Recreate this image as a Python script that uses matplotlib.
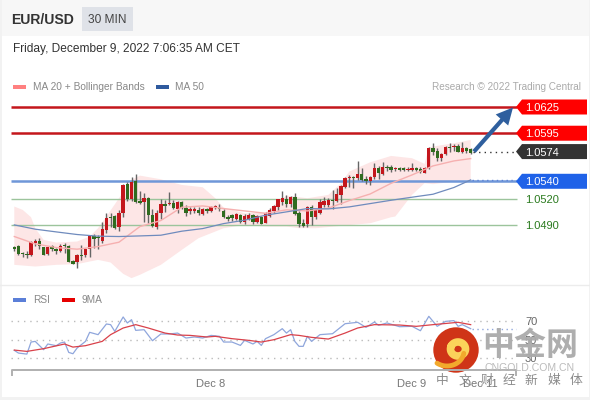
from matplotlib import pyplot as plt
from matplotlib import patches
import numpy as np

plt.rcParams['font.family'] = ['Liberation Sans', 'Noto Sans CJK SC', 'DejaVu Sans']

# candles, in 1e-5 above 1.0
opens = [4650,4657,4581,4573,4558,4692,4714,4646,4570,4657,4623,4608,4669,4665,4486,4471,4558,4562,4623,4775,
         4768,4718,4844,4989,5008,4874,5034,5366,5195,5404,5175,5160,5206,5015,4882,5042,5137,5141,5149,5084,
         5168,5099,5061,5061,5069,5027,5080,5057,5103,5095,5061,4989,5015,4974,5015,4935,4974,5015,4935,4996,
         4928,5008,5061,5103,5160,5198,5137,5217,5034,4928,4909,5107,4989,5042,5130,5126,5187,5179,5240,5339,
         5434,5454,5434,5484,5423,5408,5446,5553,5488,5568,5568,5541,5549,5553,5531,5531,5550,5546,5500,5550,
         5782,5744,5664,5713,5797,5790,5805,5733,5786,5767]
closes = [4631,4570,4566,4558,4707,4714,4661,4558,4646,4623,4608,4657,4657,4478,4452,4554,4547,4627,4775,4745,
          4749,4855,4981,4977,4871,5034,5358,5195,5396,5164,5153,5206,5015,4890,5038,5137,5118,5156,5099,5168,
          5092,5034,5080,5080,5034,5080,5057,5107,5114,5084,4996,4974,4977,5023,4935,5008,5019,4935,5008,4916,
          5034,5069,5118,5195,5214,5137,5225,5027,4913,4894,5107,4989,5069,5164,5179,5187,5179,5255,5347,5434,
          5446,5442,5484,5416,5408,5446,5553,5499,5564,5556,5530,5553,5530,5531,5546,5553,5531,5504,5553,5782,
          5740,5664,5713,5793,5778,5801,5740,5778,5752,5729]
highs = [4665,4669,4596,4600,4714,4737,4749,4653,4653,4673,4634,4684,4692,4673,4494,4570,4673,4634,4783,4802,
         4787,4935,5034,5034,5015,5073,5366,5396,5454,5480,5290,5263,5225,5084,5073,5195,5187,5275,5187,5179,
         5179,5126,5111,5111,5103,5092,5099,5122,5134,5141,5080,5015,5023,5034,5027,5023,5034,5027,5019,5008,
         5046,5092,5130,5202,5290,5244,5233,5271,5065,4966,5118,5126,5080,5195,5225,5214,5301,5320,5358,5446,
         5473,5461,5633,5549,5461,5461,5606,5575,5617,5587,5587,5568,5560,5569,5561,5614,5569,5561,5569,5790,
         5843,5778,5729,5805,5835,5824,5824,5854,5797,5778]
lows = [4608,4562,4539,4524,4547,4665,4623,4554,4562,4608,4566,4596,4585,4471,4448,4406,4494,4539,4532,4642,
        4631,4699,4806,4882,4859,4836,4996,5179,5179,5156,5137,4939,4928,4874,4852,4966,5054,5130,5084,5034,
        5080,5008,5027,5034,5012,5012,5042,5050,5088,5057,4985,4951,4951,4958,4928,4913,4958,4913,4920,4913,
        4920,4996,5034,5073,5130,5103,5111,5012,4874,4882,4882,4897,4974,5027,5103,5103,5080,5168,5141,5320,
        5339,5320,5416,5408,5370,5358,5423,5423,5473,5522,5511,5522,5515,5515,5515,5515,5515,5493,5493,5542,
        5702,5637,5630,5702,5740,5752,5733,5721,5729,5713]

ma20_idx = [0,5,10,15,20,25,30,35,40,45,50,55,60,65,70,75,80,85,90,95,100,105,109]
ma20 = [4768,4684,4642,4623,4653,4703,4882,4951,5103,5118,5088,5061,5034,5073,5061,5092,5179,5255,5377,5473,5576,5633,5660]

ma50_idx = [0,5,10,15,20,25,30,35,40,45,50,55,60,65,70,75,80,85,90,95,100,105,109]
ma50 = [4901,4852,4821,4791,4772,4768,4775,4783,4829,4859,4916,4955,5012,5050,5088,5084,5107,5145,5183,5218,5252,5329,5416]

upper_idx = [0,2,4,5,7,10,15,18,20,22,25,28,30,35,40,45,48,50,55,60,63,65,70,75,78,80,85,90,95,98,99,105,109]
upper = [5111,5073,4989,4863,4730,4699,4711,4768,4863,4996,5206,5416,5465,5423,5358,5332,5206,5099,5034,5042,5168,5236,5206,5244,5377,5511,5617,5690,5664,5599,5790,5835,5873]
lower_idx = [0,5,10,15,18,20,23,26,28,30,35,40,44,47,50,55,60,65,68,72,78,85,90,91,95,98,100,105,109]
lower = [4444,4425,4444,4452,4482,4501,4471,4341,4292,4330,4444,4615,4749,4806,4863,4901,4882,4882,4863,4863,4890,4920,4989,4997,5245,5378,5367,5397,5416]

rsi_idx = [0,1,3,4,5,7,8,10,11,12,13,14,15,17,18,20,22,23,24,26,27,28,29,31,33,35,37,39,41,43,45,47,49,50,52,54,55,57,58,59,60,62,64,65,66,67,68,
           69,70,71,73,76,79,82,84,86,87,89,92,95,97,99,101,103,105,106,107,109]
rsi = [38.6,35.7,34.6,47.5,48.2,39.3,45.4,43.6,46.4,47.5,36.4,35,41.1,48.2,57.9,55.4,66.8,66.1,58.9,74.3,67.9,71.4,60,60.7,48.9,56.1,56.1,57.1,51.8,52.9,51.8,54.6,53.6,47.5,47.5,43.9,49.3,45.4,48.2,43.9,51.1,55.4,61.8,57.1,60.7,48.2,42.9,
       42.9,53.6,48.2,55.4,56.4,67.1,68.6,63.2,68.9,65.4,67.9,63.9,64.3,59.6,75,64.3,69.6,70.4,64.3,66.1,61.8]
rsi_ma_idx = [0,3,7,12,14,17,21,23,26,29,32,36,39,42,46,48,52,56,59,62,66,68,71,75,79,82,86,92,96,100,106,109]
rsi_ma = [38.9,37.5,40.4,45.4,42.1,43.6,48.2,55.4,62.5,66.1,62.5,57.1,55,54.6,52.9,53.6,51.1,49.3,47.5,50,55.4,54.6,52.5,50.7,57.1,62.5,66.1,65.7,64.3,66.1,68.6,66.1]

level_values = [1.0625, 1.0595, 1.0574, 1.0540, 1.0520, 1.0490]
level_labels = ['1.0625', '1.0595', '1.0574', '1.0540', '1.0520', '1.0490']
rsi_levels = [70, 50, 30]
media_chars = ['中', '文', '财', '经', '新', '媒', '体']

def price(vals):
    return 1.0 + np.array(vals) / 1e5

def ix(x):
    # pixel column to candle index
    return (x - 14.3) / 4.187

W, H = 590, 400
RED, GREEN = '#c4161c', '#2f6b1f'
PX = 1 / 8740
fig = plt.figure(figsize=(W / 100, H / 100), dpi=100, facecolor='white')

# overlay in pixel coordinates for the page furniture
bg = fig.add_axes([0, 0, 1, 1], zorder=0)
bg.set_xlim(0, W)
bg.set_ylim(H, 0)
bg.axis('off')
bg.add_patch(patches.Rectangle((0, 0), W, 36, color='#f7f7f7', lw=0))
bg.add_patch(patches.Rectangle((82, 7), 51, 24, color='#dfe2e8', lw=0))
bg.add_patch(patches.Rectangle((0, 397), W, 3, color='#f2f2f2', lw=0))
bg.add_patch(patches.Rectangle((0, 0), 1.5, H, color='#f2f2f2', lw=0))
bg.add_patch(patches.Rectangle((588.5, 0), 1.5, H, color='#f2f2f2', lw=0))
bg.plot([0, W], [284.5, 284.5], color='#ececec', lw=1)
bg.text(11, 20, 'EUR/USD', fontsize=10.1, fontweight='bold', color='#333333', va='center')
bg.text(107.5, 20, '30 MIN', fontsize=8.6, color='#444444', va='center', ha='center')
bg.text(13, 49, 'Friday, December 9, 2022 7:06:35 AM CET', fontsize=8.6, color='#333333', va='center')
bg.add_patch(patches.Rectangle((13, 84.5), 13, 4, color='#ff8080', lw=0))
bg.text(33, 87, 'MA 20 + Bollinger Bands', fontsize=7.25, color='#888888', va='center')
bg.add_patch(patches.Rectangle((156, 84.5), 13, 4, color='#2f5a9e', lw=0))
bg.text(175, 87, 'MA 50', fontsize=7.25, color='#888888', va='center')
bg.text(581, 87, 'Research © 2022 Trading Central', fontsize=7.2, color='#aaaaaa', va='center', ha='right')
bg.add_patch(patches.Rectangle((13, 297.5), 13, 4, color='#5b7fd8', lw=0))
bg.text(33, 300, 'RSI', fontsize=7.25, color='#888888', va='center')
bg.add_patch(patches.Rectangle((62, 297.5), 13, 4, color='#e60000', lw=0))
bg.text(82, 300, '9MA', fontsize=7.25, color='#888888', va='center')

# price panel
ax = fig.add_axes([0, (H - 284) / H, 1, (284 - 36) / H], zorder=1)
ax.patch.set_alpha(0)
ax.axis('off')
ax.set_xlim(ix(0), ix(W))
ax.set_ylim(1.0625 - (284 - 107) * PX, 1.0625 - (36 - 107) * PX)

ax.fill(list(upper_idx) + list(lower_idx)[::-1], list(price(upper)) + list(price(lower))[::-1],
        color='#fde6e6', lw=0, zorder=1)

for lv, col, lw in [(1.0625, '#c4161c', 1.8), (1.0595, '#c4161c', 1.8), (1.0540, '#6f97d8', 1.8),
                    (1.0520, '#9cc49c', 1), (1.0490, '#9cc49c', 1)]:
    ax.plot([ix(11), ix(517)], [lv, lv], color=col, lw=lw, zorder=2, solid_capstyle='butt')

n = np.arange(len(opens))
o, c, h, l = price(opens), price(closes), price(highs), price(lows)
ax.vlines(n, l, h, color='#666666', lw=1, zorder=3)
ax.bar(n, np.abs(c - o), bottom=np.minimum(o, c), width=0.8,
       color=[RED if b >= a else GREEN for a, b in zip(opens, closes)], lw=0, zorder=4)

ax.plot(ma20_idx, price(ma20), color='#f6b0b0', lw=1, zorder=5)
ax.plot(ma50_idx, price(ma50), color='#6f8bbd', lw=0.9, zorder=5)

# dotted guides from the last candle to the tags
ax.plot([ix(473), ix(516)], [1.0574, 1.0574], color='#333333', lw=1, ls=(0, (1, 3)), zorder=3)
ax.plot([ix(472), ix(516)], [1.05415, 1.05415], color='#5b82d8', lw=1, ls=(0, (1, 2.5)), zorder=3)

ax.annotate('', xy=(ix(513), 1.0625 - 0.5 * PX), xytext=(ix(474), 1.0574),
            arrowprops=dict(width=3, headwidth=12, headlength=12, color='#2f5f9e', lw=0), zorder=6)

# price tags
tag_colors = ['#ff0000', '#ff0000', '#333333', '#1f62e8']
hh = 7.5 * PX
for v, lab, col in zip(level_values[:4], level_labels[:4], tag_colors):
    ax.fill([ix(516), ix(522), ix(587), ix(587), ix(522)], [v, v + hh, v + hh, v - hh, v - hh], color=col, lw=0, zorder=6)
    ax.text(ix(525), v - 1 * PX, lab, color='white', fontsize=8, va='center', zorder=7)
for v, lab in zip(level_values[4:], level_labels[4:]):
    ax.text(ix(525), v - 1 * PX, lab, color='#2a7a1e', fontsize=8, va='center', zorder=7)

# RSI panel
ar = fig.add_axes([0, (H - 376) / H, 1, (376 - 285) / H], zorder=2)
ar.patch.set_alpha(0)
ar.axis('off')
ar.set_xlim(ix(0), ix(W))
ar.set_ylim(70 - (376 - 321) / 0.935, 70 + (321 - 285) / 0.935)
for lv in rsi_levels:
    ar.plot([ix(11), ix(516)], [lv, lv], color='#bbbbbb', lw=1, ls=(0, (1, 3.5)))
    ar.text(ix(525), lv - 1, str(lv), color='#666666', fontsize=8, va='center')
ar.plot(rsi_idx, rsi, color='#8fa6dc', lw=0.9)
ar.plot(rsi_ma_idx, rsi_ma, color='#d9414a', lw=0.9)
ar.plot([ix(472), ix(516)], [61.8, 61.8], color='#8fa6dc', lw=1, ls=(0, (1, 2.5)))

# time axis
fg = fig.add_axes([0, 0, 1, 1], zorder=3)
fg.patch.set_alpha(0)
fg.set_xlim(0, W)
fg.set_ylim(H, 0)
fg.axis('off')
fg.plot([11.5, 11.5, 516, 516], [375, 370, 370, 375], color='#b0b0b0', lw=1.4)
for x, lab in [(211, 'Dec 8'), (412, 'Dec 9'), (480, 'Dec 11')]:
    fg.text(x, 384, lab, color='#777777', fontsize=8, ha='center', va='center')

# watermark
fg.add_patch(patches.Circle((456, 350), 22.7, color='#cf3417', lw=0))
t = np.linspace(-0.9 * np.pi, 1.15 * np.pi, 60)
fg.plot(458 + 7.5 * np.cos(t), 349 + 7 * np.sin(t), color='#fbd25a', lw=5.5, solid_capstyle='round')
t2 = np.linspace(0.05 * np.pi, 0.7 * np.pi, 30)
fg.plot(447 + 17 * np.cos(t2), 351 + 15 * np.sin(t2), color='#f2a92c', lw=3.5, solid_capstyle='round')
fg.text(530, 347, '中金网', color='#aaaaaa', fontsize=23, fontweight='bold', ha='center', va='center', alpha=0.95)
fg.text(530, 368, 'CNGOLD.COM.CN', color='#bbbbbb', fontsize=7.6, ha='center', va='center')
for k, ch in enumerate(media_chars):
    fg.text(442.5 + 22.2 * k, 381, ch, color='#8c8c8c', fontsize=9.2, ha='center', va='center')

fig.savefig('out.png', dpi=100)
